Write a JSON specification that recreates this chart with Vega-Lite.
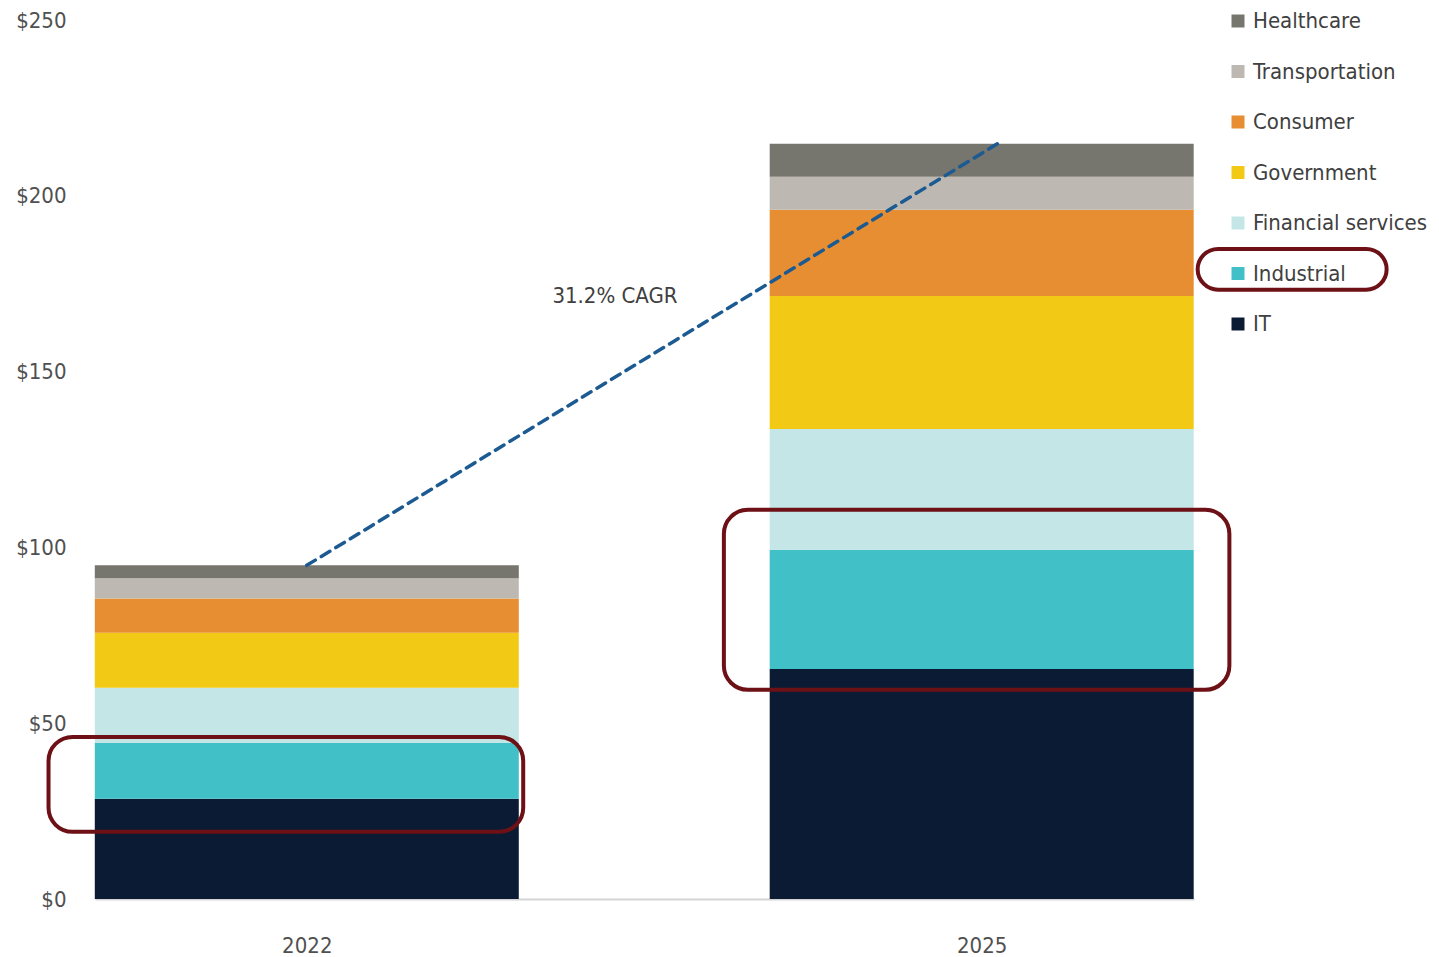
{
  "$schema": "https://vega.github.io/schema/vega-lite/v6.json",
  "width": 1099,
  "height": 879,
  "autosize": {"type": "none"},
  "padding": {"left": 95, "top": 20, "right": 245, "bottom": 58},
  "background": "white",
  "config": {
    "view": {"stroke": null},
    "font": "DejaVu Sans Condensed, Liberation Sans Narrow, sans-serif"
  },
  "datasets": {
    "bars": [
      {"year": 2022, "sector": "IT", "rank": 1, "value": 28.5},
      {"year": 2022, "sector": "Industrial", "rank": 2, "value": 15.9},
      {"year": 2022, "sector": "Financial services", "rank": 3, "value": 15.7},
      {"year": 2022, "sector": "Government", "rank": 4, "value": 15.6},
      {"year": 2022, "sector": "Consumer", "rank": 5, "value": 9.8},
      {"year": 2022, "sector": "Transportation", "rank": 6, "value": 5.7},
      {"year": 2022, "sector": "Healthcare", "rank": 7, "value": 3.7},
      {"year": 2025, "sector": "IT", "rank": 1, "value": 65.4},
      {"year": 2025, "sector": "Industrial", "rank": 2, "value": 33.9},
      {"year": 2025, "sector": "Financial services", "rank": 3, "value": 34.4},
      {"year": 2025, "sector": "Government", "rank": 4, "value": 37.8},
      {"year": 2025, "sector": "Consumer", "rank": 5, "value": 24.5},
      {"year": 2025, "sector": "Transportation", "rank": 6, "value": 9.4},
      {"year": 2025, "sector": "Healthcare", "rank": 7, "value": 9.4}
    ],
    "cagr": [
      {"year": 2022, "total": 94.9},
      {"year": 2025.07, "total": 214.8}
    ],
    "label": [
      {"year": 2023.37, "total": 171.5, "text": "31.2% CAGR"}
    ],
    "boxes": [
      {"x1": 2020.852, "x2": 2022.962, "y1": 46.1, "y2": 19.1},
      {"x1": 2023.854, "x2": 2026.101, "y1": 110.7, "y2": 59.5},
      {"x1": 2025.96, "x2": 2026.8, "y1": 184.9, "y2": 173.3}
    ]
  },
  "layer": [
    {
      "data": {"name": "bars"},
      "mark": {"type": "bar", "width": 424, "clip": false},
      "encoding": {
        "x": {
          "field": "year",
          "type": "quantitative",
          "scale": {"domain": [2021.0808, 2025.9215], "nice": false, "zero": false},
          "axis": {
            "values": [2022, 2025],
            "format": "d",
            "title": null,
            "grid": false,
            "ticks": false,
            "domainColor": "#d4d4d4",
            "domainWidth": 2,
            "labelFontSize": 22,
            "labelColor": "#505050",
            "labelPadding": 36
          }
        },
        "y": {
          "field": "value",
          "type": "quantitative",
          "stack": "zero",
          "scale": {"domain": [0, 250], "nice": false},
          "axis": {
            "values": [0, 50, 100, 150, 200, 250],
            "labelExpr": "'$' + datum.value",
            "title": null,
            "grid": false,
            "ticks": false,
            "domain": false,
            "labelFontSize": 22,
            "labelColor": "#505050",
            "labelPadding": 29
          }
        },
        "order": {"field": "rank", "type": "quantitative", "sort": "ascending"},
        "color": {
          "field": "sector",
          "type": "nominal",
          "sort": ["Healthcare", "Transportation", "Consumer", "Government", "Financial services", "Industrial", "IT"],
          "scale": {
            "domain": ["Healthcare", "Transportation", "Consumer", "Government", "Financial services", "Industrial", "IT"],
            "range": ["#77766e", "#bdb9b2", "#e88e32", "#f2ca16", "#c5e6e7", "#42c0c8", "#0c1b34"]
          },
          "legend": {
            "title": null,
            "orient": "none",
            "legendX": 1132,
            "legendY": -10,
            "symbolType": "square",
            "symbolSize": 169,
            "symbolStrokeWidth": 0,
            "labelFontSize": 22,
            "labelColor": "#404040",
            "labelOffset": 4,
            "labelLimit": 0,
            "rowPadding": 28.5,
            "padding": 0
          }
        }
      }
    },
    {
      "data": {"name": "cagr"},
      "mark": {"type": "line", "color": "#1c5a92", "strokeWidth": 3.5, "strokeDash": [10, 7], "strokeCap": "round", "clip": false},
      "encoding": {
        "x": {"field": "year", "type": "quantitative"},
        "y": {"field": "total", "type": "quantitative"}
      }
    },
    {
      "data": {"name": "label"},
      "mark": {"type": "text", "fontSize": 22, "color": "#404040", "align": "center", "baseline": "middle"},
      "encoding": {
        "x": {"field": "year", "type": "quantitative"},
        "y": {"field": "total", "type": "quantitative"},
        "text": {"field": "text"}
      }
    },
    {
      "data": {"name": "boxes"},
      "mark": {"type": "rect", "fill": null, "fillOpacity": 0, "stroke": "#6e1116", "strokeWidth": 4, "cornerRadius": 24, "clip": false},
      "encoding": {
        "x": {"field": "x1", "type": "quantitative"},
        "x2": {"field": "x2"},
        "y": {"field": "y1", "type": "quantitative"},
        "y2": {"field": "y2"}
      }
    }
  ]
}
